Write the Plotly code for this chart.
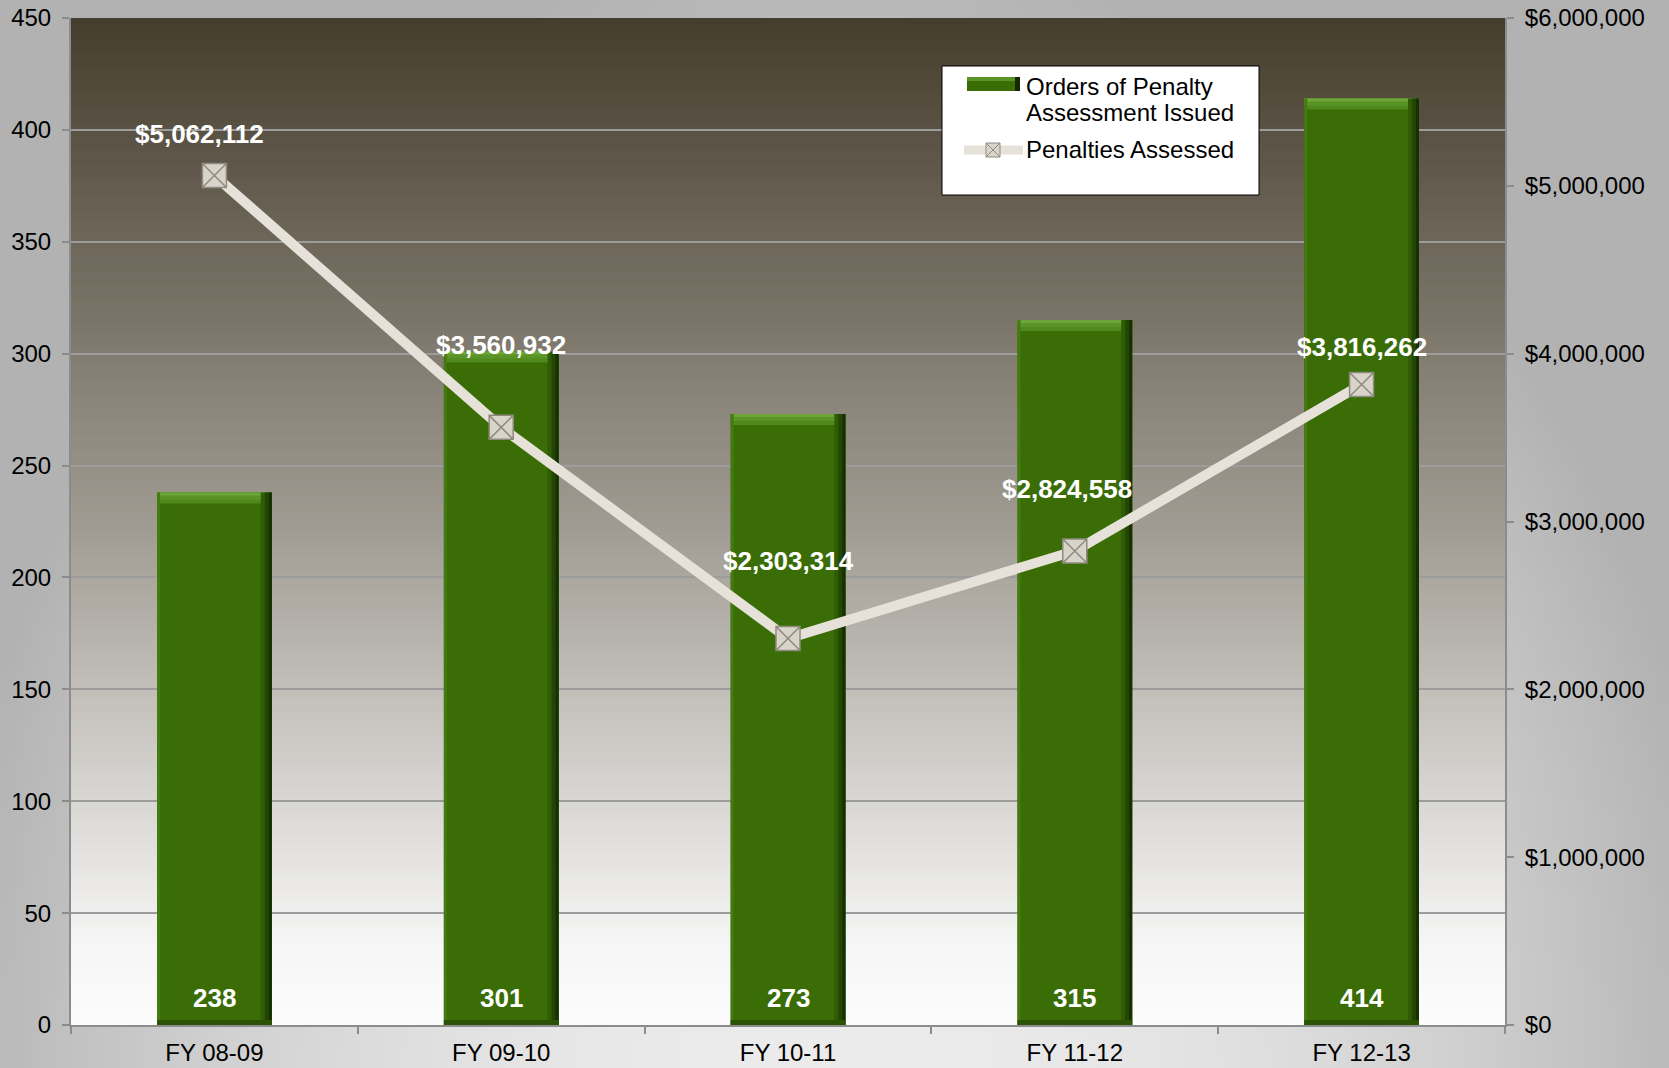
import base64
import struct
import zlib

import plotly.graph_objects as go

# ---- data -------------------------------------------------------------
fiscal_years = ["FY 08-09", "FY 09-10", "FY 10-11", "FY 11-12", "FY 12-13"]
orders_issued = [238, 301, 273, 315, 414]
penalties_assessed = [5062112, 3560932, 2303314, 2824558, 3816262]

left_ticks = list(range(0, 451, 50))
right_ticks = list(range(0, 6000001, 1000000))
right_tick_text = [f"${v:,}" for v in right_ticks]

# ---- page geometry ----------------------------------------------------
W, H = 1669, 1068
ML, MR, MT, MB = 71, 164, 18, 43
PW, PH = W - ML - MR, H - MT - MB
FONT = "Arial, Liberation Sans, sans-serif"


def px_x(px):
    return (px - ML) / PW


def px_y(py):
    return (MT + PH - py) / PH


def png_uri(width, height, pixel):
    raw = bytearray()
    for j in range(height):
        raw.append(0)
        for i in range(width):
            raw += bytes(pixel(i, j))

    def chunk(tag, data):
        body = tag + data
        return struct.pack(">I", len(data)) + body + struct.pack(">I", zlib.crc32(body) & 0xFFFFFFFF)

    png = (b"\x89PNG\r\n\x1a\n"
           + chunk(b"IHDR", struct.pack(">IIBBBBB", width, height, 8, 2, 0, 0, 0))
           + chunk(b"IDAT", zlib.compress(bytes(raw), 9))
           + chunk(b"IEND", b""))
    return "data:image/png;base64," + base64.b64encode(png).decode()


# soft grey page backdrop, lightest at the bottom centre
def page_pixel(i, j, w=167, h=107):
    u = (i + 0.5) / w * 2 - 1
    v = (j + 0.5) / h - 1.02
    r2 = u * u + v * v
    c = int(max(178, 236 - 50 * r2))
    return (c, c, c)


# plot area: dark olive at the top fading to near-white at the base
stops = [(0.0, (69, 61, 45)), (0.5, (160, 155, 146)), (0.92, (246, 246, 246)), (1.0, (252, 252, 252))]


def area_pixel(i, j, h=256):
    t = (j + 0.5) / h
    for (t0, c0), (t1, c1) in zip(stops[:-1], stops[1:]):
        if t <= t1:
            f = (t - t0) / (t1 - t0)
            return tuple(int(round(a + (b - a) * f)) for a, b in zip(c0, c1))
    return stops[-1][1]


page_img = png_uri(167, 107, page_pixel)
area_img = png_uri(4, 256, area_pixel)

fig = go.Figure()

# ---- bars with a bevelled look ----------------------------------------
BAR_W = 0.4
CAT_PX = PW / len(fiscal_years)  # pixels per category
unit = 450 / PH  # one pixel in left-axis units
n = len(orders_issued)


def deco_bar(y, color, width_px=None, right=False, base=None):
    w = BAR_W if width_px is None else width_px / CAT_PX
    off = (BAR_W / 2 - w) if right else -BAR_W / 2
    fig.add_trace(go.Bar(
        x=fiscal_years, y=y, base=base, width=w, offset=off,
        marker=dict(color=color, line=dict(width=0)), showlegend=False, hoverinfo="skip",
    ))


fig.add_trace(go.Bar(
    x=fiscal_years, y=orders_issued, width=BAR_W, offset=-BAR_W / 2,
    marker=dict(color="#3a6d06", line=dict(width=0)),
    name="Orders of Penalty Assessment Issued", showlegend=False, hoverinfo="x+y",
))
# top bevel
deco_bar([11 * unit] * n, "#4f8a1c", base=[v - 11 * unit for v in orders_issued])
deco_bar([7 * unit] * n, "#5b9327", base=[v - 7 * unit for v in orders_issued])
deco_bar([3 * unit] * n, "#6ca63a", base=[v - 3 * unit for v in orders_issued])
# left highlight edge
deco_bar(orders_issued, "#457a10", width_px=3)
# right shadow edge, darkening toward the edge
deco_bar(orders_issued, "#2f5c05", width_px=11, right=True)
deco_bar(orders_issued, "#234604", width_px=7, right=True)
deco_bar(orders_issued, "#163002", width_px=3, right=True)
# bottom shadow
deco_bar([5 * unit] * n, "#2b5205")

# ---- penalties line ---------------------------------------------------
fig.add_trace(go.Scatter(
    x=fiscal_years, y=penalties_assessed, yaxis="y2", mode="lines+markers",
    line=dict(color="#e6e2d9", width=10),
    marker=dict(symbol="square-x", size=24, color="#d8d4ca",
                line=dict(color="#8e8a80", width=1.5)),
    name="Penalties Assessed", showlegend=False,
))

# ---- value labels -----------------------------------------------------
label_shift = [(-15, 41), (0, 82), (0, 77), (-8, 62), (0, 38)]
annotations = []
for fy, v, (dx, dy) in zip(fiscal_years, penalties_assessed, label_shift):
    annotations.append(dict(
        x=fy, y=v, xref="x", yref="y2", text=f"<b>${v:,}</b>", showarrow=False,
        xshift=dx, yshift=dy, font=dict(family=FONT, size=26, color="white"),
    ))
for fy, v in zip(fiscal_years, orders_issued):
    annotations.append(dict(
        x=fy, y=0, xref="x", yref="y", text=f"<b>{v}</b>", showarrow=False,
        yanchor="middle", yshift=27, font=dict(family=FONT, size=26, color="white"),
    ))

# ---- legend box -------------------------------------------------------
shapes = [
    dict(type="rect", xref="paper", yref="paper", x0=px_x(942), x1=px_x(1259), y0=px_y(195), y1=px_y(66),
         fillcolor="white", line=dict(color="black", width=1), layer="above"),
    dict(type="rect", xref="paper", yref="paper", x0=px_x(967), x1=px_x(1020), y0=px_y(91), y1=px_y(77),
         fillcolor="#3a6d06", line=dict(width=0), layer="above"),
    dict(type="rect", xref="paper", yref="paper", x0=px_x(967), x1=px_x(1020), y0=px_y(81), y1=px_y(77),
         fillcolor="#5b9327", line=dict(width=0), layer="above"),
    dict(type="rect", xref="paper", yref="paper", x0=px_x(1015), x1=px_x(1020), y0=px_y(91), y1=px_y(77),
         fillcolor="#142902", line=dict(width=0), layer="above"),
    dict(type="line", xref="paper", yref="paper", x0=px_x(964), x1=px_x(1023), y0=px_y(150), y1=px_y(150),
         line=dict(color="#e6e2d9", width=9), layer="above"),
    dict(type="rect", xref="paper", yref="paper", x0=px_x(986), x1=px_x(1000), y0=px_y(157), y1=px_y(143),
         fillcolor="#d8d4ca", line=dict(color="#8e8a80", width=1), layer="above"),
    dict(type="path", xref="paper", yref="paper",
         path=(f"M{px_x(986)},{px_y(157)} L{px_x(1000)},{px_y(143)} "
               f"M{px_x(986)},{px_y(143)} L{px_x(1000)},{px_y(157)}"),
         line=dict(color="#8e8a80", width=1), layer="above"),
]
for text, cy in [("Orders of Penalty", 86), ("Assessment Issued", 113), ("Penalties Assessed", 150)]:
    annotations.append(dict(
        x=px_x(1024), y=px_y(cy), xref="paper", yref="paper", text=text, showarrow=False,
        xanchor="left", yanchor="middle", font=dict(family=FONT, size=24, color="black"),
    ))

images = [
    dict(source=page_img, xref="paper", yref="paper", x=-ML / PW, y=1 + MT / PH,
         sizex=W / PW, sizey=H / PH, sizing="stretch", xanchor="left", yanchor="top", layer="below"),
    dict(source=area_img, xref="paper", yref="paper", x=0, y=1,
         sizex=1, sizey=1, sizing="stretch", xanchor="left", yanchor="top", layer="below"),
]

axis_col = "#8c8c8c"
fig.update_layout(
    width=W, height=H,
    margin=dict(l=ML, r=MR, t=MT, b=MB, pad=0),
    paper_bgcolor="#c4c4c4", plot_bgcolor="rgba(0,0,0,0)",
    barmode="overlay", showlegend=False,
    font=dict(family=FONT, size=24, color="black"),
    xaxis=dict(
        type="category", categoryorder="array", categoryarray=fiscal_years,
        range=[-0.5, len(fiscal_years) - 0.5],
        showline=True, linecolor=axis_col, linewidth=2,
        ticks="outside", tickson="boundaries", ticklen=7, tickcolor=axis_col, tickwidth=2,
        showgrid=False, automargin=False, tickfont=dict(size=24), ticklabelstandoff=5,
    ),
    yaxis=dict(
        range=[0, 450], tickvals=left_ticks, showgrid=True, gridcolor="#9c9c9c", gridwidth=1.5,
        zeroline=False, showline=True, linecolor=axis_col, linewidth=2,
        ticks="outside", ticklen=7, tickcolor=axis_col, tickwidth=2,
        automargin=False, tickfont=dict(size=24), ticklabelstandoff=6,
    ),
    yaxis2=dict(
        overlaying="y", side="right", range=[0, 6000000],
        tickmode="array", tickvals=right_ticks, ticktext=right_tick_text,
        showgrid=False, zeroline=False,
        showline=True, linecolor=axis_col, linewidth=2,
        ticks="outside", ticklen=7, tickcolor=axis_col, tickwidth=2,
        automargin=False, tickfont=dict(size=24), ticklabelstandoff=6,
    ),
    shapes=shapes, annotations=annotations, images=images,
)

fig.write_html("out.html")
